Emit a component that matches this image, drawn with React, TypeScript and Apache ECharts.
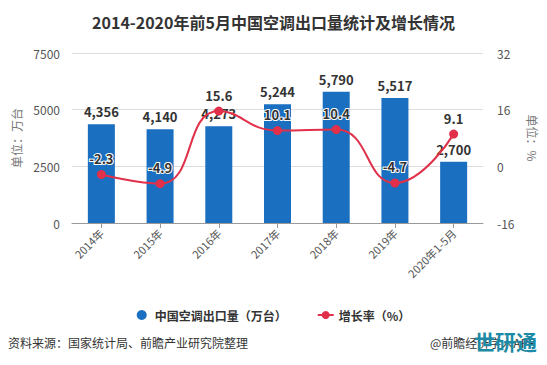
import React, { useEffect, useRef } from "react";
import * as echarts from "echarts";

const categories = ["2014年", "2015年", "2016年", "2017年", "2018年", "2019年", "2020年1-5月"];
const exportVolume = [4356, 4140, 4273, 5244, 5790, 5517, 2700];
const growthRate = [-2.3, -4.9, 15.6, 10.1, 10.4, -4.7, 9.1];

const FONT = "'Noto Sans CJK SC', 'Microsoft YaHei', sans-serif";

export default function App() {
  const ref = useRef<HTMLDivElement>(null);
  useEffect(() => {
    if (!ref.current) return;
    const chart = echarts.init(ref.current, undefined, { renderer: "svg" });
    chart.setOption({
      animation: false,
      backgroundColor: "#ffffff",
      textStyle: { fontFamily: FONT },
      title: {
        text: "2014-2020年前5月中国空调出口量统计及增长情况",
        left: "center",
        top: 9,
        textStyle: { fontSize: 16, fontWeight: "bold", color: "#333", fontFamily: FONT },
      },
      grid: { left: 72, right: 64, top: 53, bottom: 142 },
      legend: {
        top: 304,
        left: "center",
        itemGap: 30,
        itemWidth: 16,
        itemHeight: 10,
        textStyle: { fontSize: 12, fontWeight: "bold", color: "#333", fontFamily: FONT },
        data: [
          { name: "中国空调出口量（万台）", icon: "circle" },
          { name: "增长率（%）" },
        ],
      },
      xAxis: {
        type: "category",
        data: categories,
        axisLine: { lineStyle: { color: "#999" } },
        axisTick: { show: true, alignWithLabel: true, lineStyle: { color: "#999" } },
        axisLabel: { rotate: 45, fontSize: 11, color: "#555", margin: 8, fontFamily: FONT },
      },
      yAxis: [
        {
          type: "value",
          min: 0,
          max: 7500,
          interval: 2500,
          name: "单位：万台",
          nameLocation: "middle",
          nameGap: 50,
          nameTextStyle: { fontSize: 12, color: "#777", fontFamily: FONT },
          axisLine: { show: false },
          axisTick: { show: false },
          axisLabel: { fontSize: 12, color: "#555", margin: 12, formatter: (v: number) => String(v) },
          splitLine: { lineStyle: { color: "#ddd" } },
        },
        {
          type: "value",
          min: -16,
          max: 32,
          interval: 16,
          name: "单位：%",
          nameLocation: "middle",
          nameRotate: -90,
          nameGap: 44,
          nameTextStyle: { fontSize: 12, color: "#777", fontFamily: FONT },
          axisLine: { show: false },
          axisTick: { show: false },
          axisLabel: { fontSize: 12, color: "#555", margin: 14 },
          splitLine: { show: false },
        },
      ],
      series: [
        {
          name: "中国空调出口量（万台）",
          type: "bar",
          data: exportVolume,
          barWidth: 27,
          itemStyle: { color: "#1a6fc0" },
          label: {
            show: true,
            position: "top",
            distance: 6,
            fontSize: 13,
            fontWeight: "bold",
            color: "#333",
            fontFamily: FONT,
            formatter: (p: any) => Number(p.value).toLocaleString("en-US"),
          },
        },
        {
          name: "增长率（%）",
          type: "line",
          yAxisIndex: 1,
          data: growthRate,
          smooth: true,
          symbol: "circle",
          symbolSize: 9,
          lineStyle: { color: "#e0304a", width: 2 },
          itemStyle: { color: "#e0304a" },
          label: {
            show: true,
            position: "top",
            distance: 5,
            fontSize: 13,
            fontWeight: "bold",
            color: "#333",
            textBorderColor: "#fff",
            textBorderWidth: 2,
            fontFamily: FONT,
          },
          z: 3,
        },
      ],
      graphic: [
        {
          type: "text",
          left: 8,
          top: 336,
          style: { text: "资料来源：国家统计局、前瞻产业研究院整理", fontSize: 12, fill: "#333", fontFamily: FONT },
        },
        {
          type: "text",
          left: 430,
          top: 336,
          style: { text: "@前瞻经济学人APP", fontSize: 12, fill: "#333", fontFamily: FONT },
        },
        {
          type: "text",
          left: 474,
          top: 330,
          style: { text: "世研通", fontSize: 21, fontWeight: "bold", fill: "#1d8aa6", fontFamily: FONT },
        },
      ],
    });
    return () => chart.dispose();
  }, []);
  return <div ref={ref} style={{ width: 547, height: 365, position: "absolute", left: 0, top: 0 }} />;
}
